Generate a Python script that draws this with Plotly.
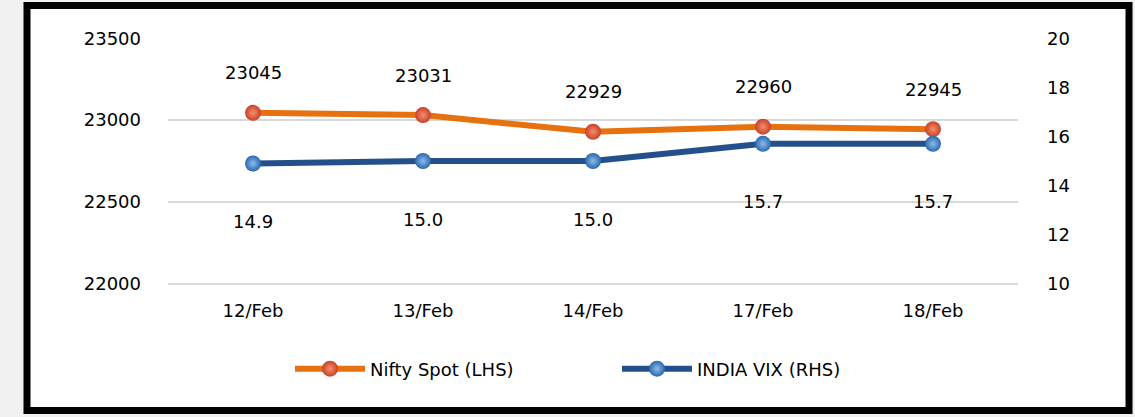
import plotly.graph_objects as go

dates = ["12/Feb", "13/Feb", "14/Feb", "17/Feb", "18/Feb"]
nifty = [23045, 23031, 22929, 22960, 22945]
vix = [14.9, 15.0, 15.0, 15.7, 15.7]
vix_labels = ["14.9", "15.0", "15.0", "15.7", "15.7"]

FONT = "DejaVu Sans"
FS = 18
ORANGE = "#E8710F"
BLUE = "#23508A"

fig = go.Figure()
fig.add_trace(go.Scatter(
    x=dates, y=nifty, name="Nifty Spot (LHS)", mode="lines+markers",
    line=dict(color=ORANGE, width=6),
    marker=dict(size=16, color="#C9402A", line=dict(width=0),
                gradient=dict(type="radial", color="#F2906A")),
    yaxis="y",
))
fig.add_trace(go.Scatter(
    x=dates, y=vix, name="INDIA VIX (RHS)", mode="lines+markers",
    line=dict(color=BLUE, width=6),
    marker=dict(size=16, color="#2A68AE", line=dict(width=0),
                gradient=dict(type="radial", color="#8DBCEB")),
    yaxis="y2",
))

annotations = []
for d, v in zip(dates, nifty):
    annotations.append(dict(x=d, y=v, xref="x", yref="y", text=str(v), showarrow=False,
                            yshift=40, font=dict(family=FONT, size=FS, color="black")))
for d, v, t in zip(dates, vix, vix_labels):
    annotations.append(dict(x=d, y=v, xref="x", yref="y2", text=t, showarrow=False,
                            yshift=-58, font=dict(family=FONT, size=FS, color="black")))

# outer frame
L, R, T, B = 168, 117, 38, 131
W, H = 1135, 417
pw, ph = W - L - R, H - T - B
def px2x(px): return (px - L) / pw
def py2y(py): return (H - B - py) / ph

shapes = [dict(type="rect", xref="paper", yref="paper", layer="below",
               x0=px2x(27), x1=px2x(1129), y0=py2y(410.5), y1=py2y(5.5),
               line=dict(color="black", width=7), fillcolor="white")]

fig.update_layout(
    width=W, height=H,
    margin=dict(l=L, r=R, t=T, b=B),
    paper_bgcolor="#F0F0F0", plot_bgcolor="white",
    font=dict(family=FONT, size=FS, color="black"),
    showlegend=True,
    legend=dict(orientation="h", x=px2x(290), xanchor="left", y=py2y(369), yanchor="middle",
                font=dict(family=FONT, size=FS, color="black"), itemwidth=70,
                entrywidth=242,
                bgcolor="rgba(0,0,0,0)", traceorder="normal"),
    xaxis=dict(range=[-0.5, 4.5], showgrid=False, showline=False, zeroline=False, ticks="",
               tickfont=dict(family=FONT, size=FS), ticklabelstandoff=12),
    yaxis=dict(range=[21985, 23503], tickvals=[22000, 22500, 23000, 23500], showgrid=True,
               gridcolor="#D9D9D9", gridwidth=1.5, zeroline=False, showline=False, ticks="",
               tickformat="d", ticklabelstandoff=26, tickfont=dict(family=FONT, size=FS)),
    yaxis2=dict(range=[9.9, 20.02], tickvals=[10, 12, 14, 16, 18, 20], overlaying="y",
                side="right", showgrid=False,
                zeroline=False, showline=False, ticks="", ticklabelstandoff=28,
                tickfont=dict(family=FONT, size=FS)),
    annotations=annotations,
    shapes=shapes,
)

fig.write_html("out.html", config={"displayModeBar": False},
               post_script="document.body.style.margin='0';")
